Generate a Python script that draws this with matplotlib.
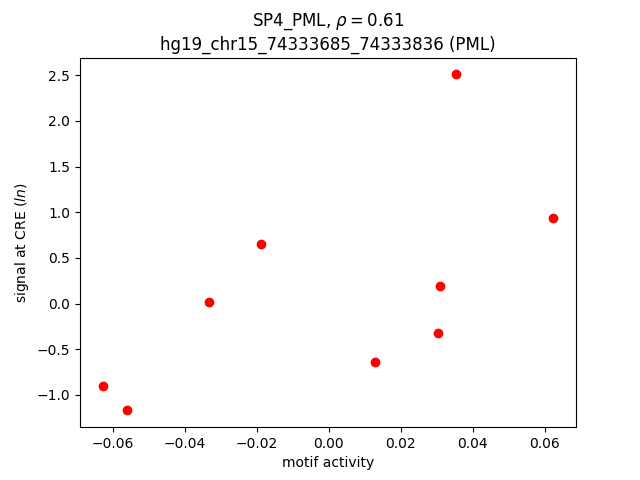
import matplotlib
matplotlib.use("Agg")
import matplotlib.pyplot as plt

motif_activity = [-0.0629, -0.0562, -0.0334, -0.0189, 0.0128, 0.0303, 0.0309, 0.0354, 0.0624]
signal = [-0.90, -1.17, 0.02, 0.65, -0.64, -0.32, 0.19, 2.51, 0.94]

fig, ax = plt.subplots(figsize=(6.4, 4.8), dpi=100)
ax.scatter(motif_activity, signal, color="red")
ax.set_title("SP4_PML, $\\rho = 0.61$\nhg19_chr15_74333685_74333836 (PML)")
ax.set_xlabel("motif activity")
ax.set_ylabel("signal at CRE ($ln$)")
fig.savefig("out.png")
